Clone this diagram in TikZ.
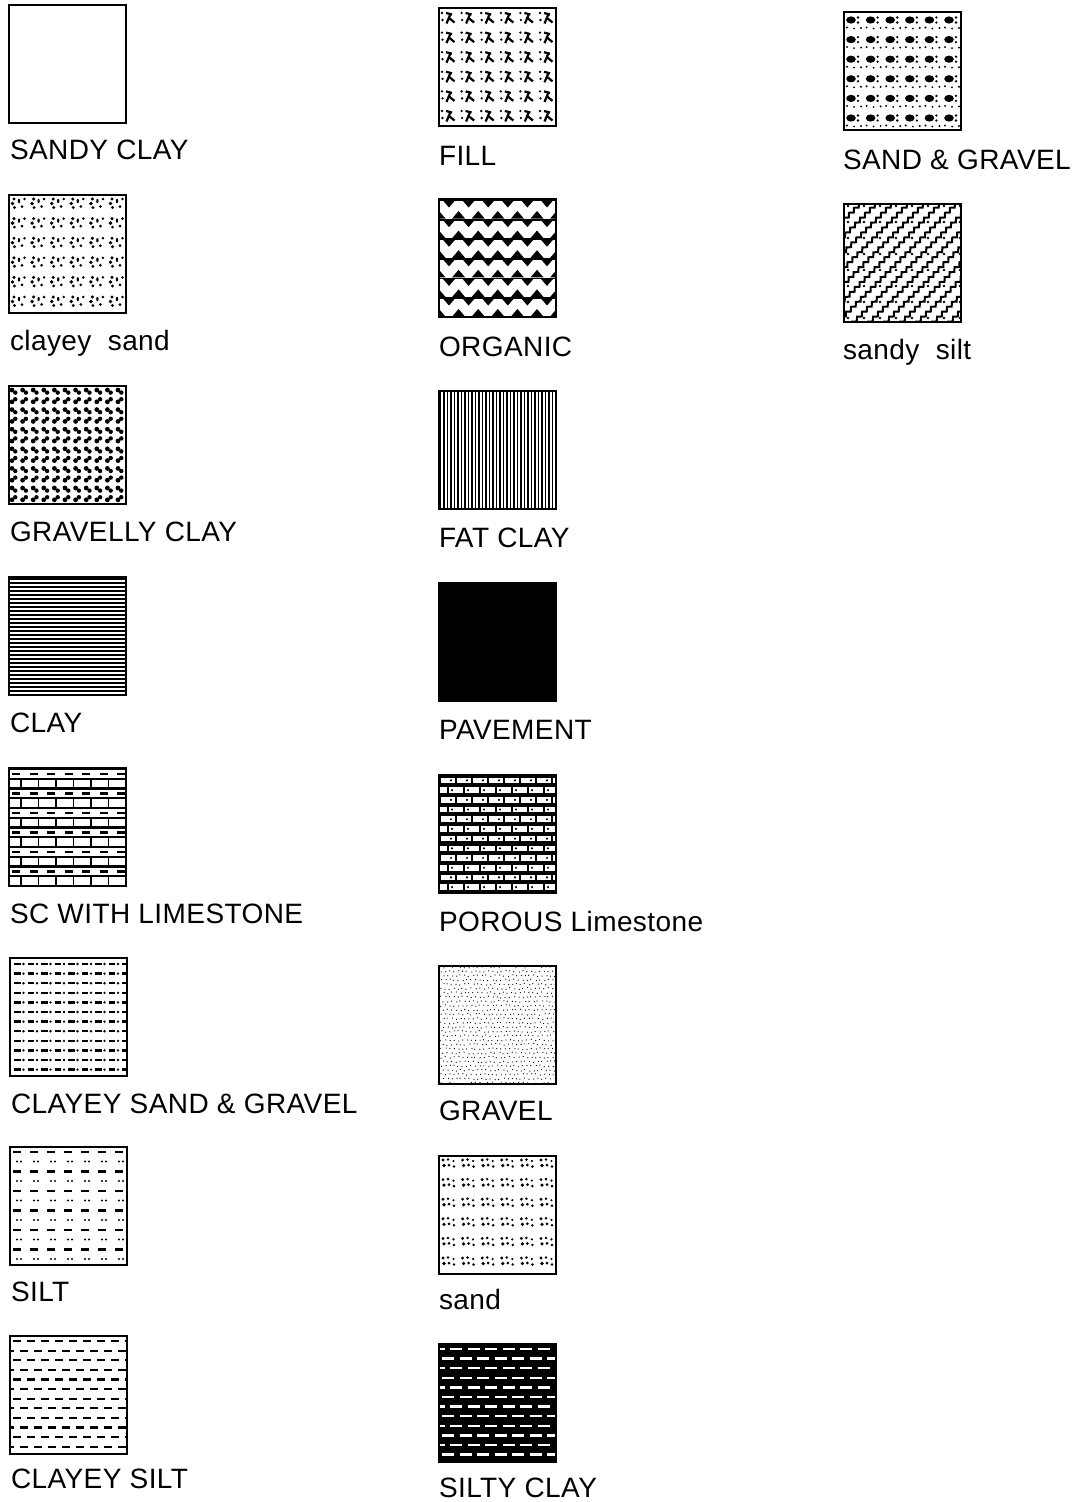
\documentclass[tikz,border=0pt]{standalone}
\usepackage{fontspec}
\setmainfont{Liberation Sans}[LetterSpace=1.5]
\usetikzlibrary{decorations.pathmorphing}
\tikzset{
  boxnode/.style={rectangle, anchor=north west, minimum width=117pt, minimum height=118pt, inner sep=0pt, outer sep=0pt},
  boxborder/.style={draw=black, line width=2.3pt},
  lbl/.style={anchor=base west, inner sep=0pt, outer sep=0pt, font=\fontsize{28}{31}\selectfont},
}
\newcommand\soilbox[4]{%
  \node[boxnode] (#1) at (#2,#3) {};
  \begin{scope}[shift={(#1.north west)}]
    \clip (0,0) rectangle (117,118);
    #4
  \end{scope}
  \draw[boxborder] (#1.north west) rectangle (#1.south east);
}
% ---------- patterns ----------
\newcommand\patblank{}
\newcommand\patclayeysand{%
  \foreach \i in {0,...,5}{\foreach \j in {0,...,5}{
    \begin{scope}[shift={({\i*19.6},{\j*19.6})}]
      \fill (5,4) circle (1.7); \fill (3.5,8.5) circle (1.9); \fill (5.5,12.5) circle (1.6);
      \fill (10,6) ellipse (1.2 and 2.2); \fill (13,11.5) circle (1.5); \fill (15.5,4) circle (1.4);
    \end{scope}}}}
\newcommand\patgravelly{%
  \foreach \i in {0,...,11}{\foreach \j in {0,...,12}{
    \begin{scope}[shift={({\i*10.6+3},{\j*9.8+4})}]
      \ifodd\j
        \fill (0,2) circle (2.4); \fill (3.3,-0.6) circle (2.2);
      \else
        \fill (0,0) circle (2.4); \fill (3.3,2.6) circle (2.2);
      \fi
    \end{scope}}}}
\newcommand\patclay{%
  \foreach \k in {0,...,29}{\draw[line width=1.6pt] (0,{\k*4+2}) -- (117,{\k*4+2});}}
\newcommand\patsclime{%
  \foreach \k in {0,...,12}{\draw[line width=2.2pt] (0,{\k*9.75+1}) -- (117,{\k*9.75+1});}
  \foreach \k in {0,2,...,10}{\foreach \i in {0,...,6}{
    \draw[line width=2.4pt] ({\i*17.5+3},{\k*9.75+5.9}) -- ++(8,0);}}
  \foreach \k in {1,3,...,11}{\foreach \i in {0,...,6}{
    \draw[line width=1.5pt] ({\i*17.5+12},{\k*9.75+1}) -- ++(0,9.75);}}}
\newcommand\patcsg{%
  \foreach \j in {0,...,11}{\foreach \i in {0,...,8}{
    \draw[line width=2.4pt] ({\i*13.5+4},{\j*9.6+6}) -- ++(6.5,0);
    \fill ({\i*13.5+13.5},{\j*9.6+6}) circle (1.3);}}}
\newcommand\patsilt{%
  \foreach \j in {0,...,5}{\foreach \i in {0,...,6}{
    \draw[line width=2.4pt] ({\i*17+3},{\j*19.5+5}) -- ++(8,0);
    \fill ({\i*17+7},{\j*19.5+14.5}) circle (1.2);
    \fill ({\i*17+11},{\j*19.5+14.5}) circle (1.2);}}}
\newcommand\patclayeysilt{%
  \foreach \j in {0,...,11}{\foreach \i in {-1,...,8}{
    \ifodd\j
      \draw[line width=2.2pt] ({\i*14+10},{\j*9.6+5}) -- ++(8,0);
    \else
      \draw[line width=2.2pt] ({\i*14+3},{\j*9.6+5}) -- ++(8,0);
    \fi}}}
\newcommand\patfill{%
  \foreach \i in {0,...,5}{\foreach \j in {0,...,5}{
    \begin{scope}[shift={({\i*19.6},{\j*19.6})}]
      \draw[line width=2.2pt] (7,5) -- (13,6.5);
      \draw[line width=2.2pt] (11.5,6) -- (7.5,15.5);
      \draw[line width=2.2pt] (10,10) -- (15.5,14.5);
      \fill (3,5) circle (1.3); \fill (3.5,12) circle (1.3);
    \end{scope}}}}
\newcommand\patorganic{%
  \foreach \j in {0,...,5}{
    \draw[line width=1.8pt] (0,{\j*19.6+1}) -- (117,{\j*19.6+1});
    \foreach \i in {0,...,6}{
      \fill ({\i*19.6+3.5},{\j*19.6+1}) -- ({\i*19.6+16.5},{\j*19.6+1}) -- ({\i*19.6+10},{\j*19.6+8.5}) -- cycle;
      \fill ({\i*19.6-6.5},{\j*19.6+19.6}) -- ({\i*19.6+6.5},{\j*19.6+19.6}) -- ({\i*19.6},{\j*19.6+12}) -- cycle;}}}
\newcommand\patfatclay{%
  \foreach \k in {0,...,33}{\draw[line width=1.4pt] ({\k*3.5+1.5},0) -- ({\k*3.5+1.5},118);}}
\newcommand\patpavement{\fill (0,0) rectangle (117,118);}
\newcommand\patporous{%
  \fill (0,0) rectangle (117,118);
  \foreach \j in {0,...,11}{\foreach \i in {-1,...,7}{
    \ifodd\j
      \fill[white] ({\i*16+10},{\j*9.7+2.6}) rectangle ++(14,5.6);
      \fill ({\i*16+13},{\j*9.7+5.4}) circle (1.2);
    \else
      \fill[white] ({\i*16+2},{\j*9.7+2.6}) rectangle ++(14,5.6);
      \fill ({\i*16+12},{\j*9.7+5.4}) circle (1.2);
    \fi}}}
\newcommand\patgravel{%
  \pgfmathsetseed{7}
  \foreach \j in {0,...,27}{\foreach \i in {0,...,27}{
    \fill ({\i*4.3+mod(\j,2)*2.1+rand*0.9},{\j*4.3+1+rand*0.9}) circle (0.62);}}}
\newcommand\patsand{%
  \foreach \i in {0,...,5}{\foreach \j in {0,...,5}{
    \begin{scope}[shift={({\i*19.6},{\j*19.6})}]
      \fill (4,4) circle (1.6); \fill (9,3.5) circle (1.4);
      \fill (5,9.5) circle (1.8); \fill (10,9) circle (1.5);
      \fill (14.5,5) circle (1.2); \fill (15,10.5) circle (1.4);
    \end{scope}}}}
\newcommand\patsiltyclay{%
  \fill (0,0) rectangle (117,118);
  \foreach \j in {0,...,11}{\foreach \i in {-1,...,7}{
    \ifodd\j
      \draw[white, line width=2.3pt] ({\i*17.5+3},{\j*9.6+5}) -- ++(12,0);
    \else
      \draw[white, line width=2.3pt] ({\i*17.5+11},{\j*9.6+5}) -- ++(12,0);
    \fi}}}
\newcommand\patsandgravel{%
  \foreach \i in {0,...,5}{\foreach \j in {0,...,5}{
    \begin{scope}[shift={({\i*19.6},{\j*19.6})}]
      \fill (7,8) ellipse (4.8 and 3.6);
      \fill (14,5.5) circle (1.3); \fill (14,10.5) circle (1.3);
      \fill (3,15.5) circle (1.1); \fill (17,16) circle (1.1); \fill (10,16.5) circle (1.0);
    \end{scope}}}}
\newcommand\patsandysilt{%
  \foreach \t in {-120,-104,...,120}{
    \draw[line width=2pt, decorate, decoration={zigzag, segment length=7pt, amplitude=1.6pt}] (\t,120) -- ({\t+120},0);
    \foreach \s in {4,20,...,120}{\fill ({\t+8+\s},{118-\s}) circle (1.3);}}}
\begin{document}
\begin{tikzpicture}[x=1pt, y=-1pt]
  \useasboundingbox[fill=white] (0,0) rectangle (1087,1502);
  % column 1
  \soilbox{sandyclay}{9}{5}{\patblank}
  \node[lbl] (tsandyclay) at (10,159) {SANDY CLAY};
  \soilbox{clayeysand}{9}{195}{\patclayeysand}
  \node[lbl] (tclayeysand) at (10,350) {clayey~ sand};
  \soilbox{gravellyclay}{9}{386}{\patgravelly}
  \node[lbl] (tgravellyclay) at (10,541) {GRAVELLY CLAY};
  \soilbox{clay}{9}{577}{\patclay}
  \node[lbl] (tclay) at (10,732) {CLAY};
  \soilbox{sclime}{9}{768}{\patsclime}
  \node[lbl] (tsclime) at (10,923) {SC WITH LIMESTONE};
  \soilbox{csg}{10}{958}{\patcsg}
  \node[lbl] (tcsg) at (11,1113) {CLAYEY SAND \& GRAVEL};
  \soilbox{silt}{10}{1147}{\patsilt}
  \node[lbl] (tsilt) at (11,1301) {SILT};
  \soilbox{clayeysilt}{10}{1336}{\patclayeysilt}
  \node[lbl] (tclayeysilt) at (11,1488) {CLAYEY SILT};
  % column 2
  \soilbox{fill}{439}{8}{\patfill}
  \node[lbl] (tfill) at (439,165) {FILL};
  \soilbox{organic}{439}{199}{\patorganic}
  \node[lbl] (torganic) at (439,356) {ORGANIC};
  \soilbox{fatclay}{439}{391}{\patfatclay}
  \node[lbl] (tfatclay) at (439,547) {FAT CLAY};
  \soilbox{pavement}{439}{583}{\patpavement}
  \node[lbl] (tpavement) at (439,739) {PAVEMENT};
  \soilbox{porous}{439}{775}{\patporous}
  \node[lbl] (tporous) at (439,931) {POROUS Limestone};
  \soilbox{gravel}{439}{966}{\patgravel}
  \node[lbl] (tgravel) at (439,1120) {GRAVEL};
  \soilbox{sand}{439}{1156}{\patsand}
  \node[lbl] (tsand) at (439,1309) {sand};
  \soilbox{siltyclay}{439}{1344}{\patsiltyclay}
  \node[lbl] (tsiltyclay) at (439,1497) {SILTY CLAY};
  % column 3
  \soilbox{sandgravel}{844}{12}{\patsandgravel}
  \node[lbl] (tsandgravel) at (843,169) {SAND \& GRAVEL};
  \soilbox{sandysilt}{844}{204}{\patsandysilt}
  \node[lbl] (tsandysilt) at (843,359) {sandy~ silt};
\end{tikzpicture}
\end{document}
